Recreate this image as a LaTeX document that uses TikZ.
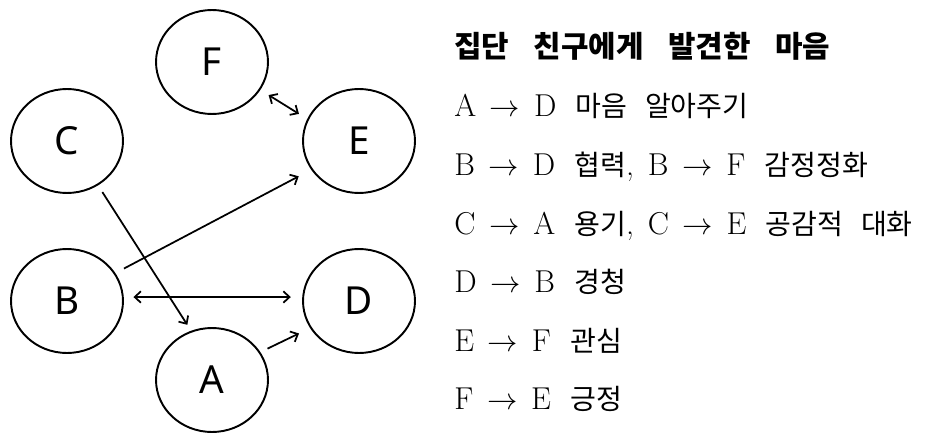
\documentclass[tikz,border=0pt]{standalone}
\usepackage{fontspec}
\usetikzlibrary{shapes.geometric,arrows.meta}
\setsansfont{Noto Sans}
\newfontfamily\krfont{Noto Sans CJK KR}
\newcommand{\kr}[1]{\unskip\hskip 11pt{\krfont\fontsize{16}{18}\selectfont\spaceskip=10pt\relax #1}}
\newcommand{\krtitle}[1]{{\krfont\bfseries\fontsize{17}{19}\selectfont\spaceskip=14pt\relax #1}}
\newcommand{\finds}{{$\rightarrow$}}
\tikzset{
  member/.style={ellipse, draw, line width=1.1pt, inner sep=0pt,
    minimum width=2.24cm, minimum height=2.08cm,
    font=\sffamily\fontsize{22}{24}\selectfont},
  barb/.tip={Straight Barb[length=3.5pt,width=6.5pt]},
  tie/.style={line width=1pt, -barb, shorten <=5pt, shorten >=5pt},
  line/.style={anchor=base west, inner sep=0pt,
    font=\fontsize{18}{20}\selectfont,
    execute at begin node={\spaceskip=7.8pt\relax}}
}
\begin{document}
\begin{tikzpicture}[x=0.02cm,y=-0.02cm]
\useasboundingbox (0,0) rectangle (928,432);

% members of the group
\node [member] (F) at (212,62) {F};
\node [member] (C) at (67,141) {C};
\node [member] (E) at (359,141) {E};
\node [member] (B) at (67,301) {B};
\node [member] (D) at (359,301) {D};
\node [member] (A) at (212,380) {A};

% who found what in whom
\draw [tie, shorten <=4.5pt, shorten >=4pt] (C.-55) -- (A.113);
\draw [tie, shorten <=5.5pt, shorten >=8pt] (B.30) -- (E.211);
\draw [tie, barb-barb, shorten <=5.5pt, shorten >=6.5pt] (B.4) -- (D.176);
\draw [tie, shorten <=4.5pt, shorten >=7pt] (A.30) -- (D.209);
\draw [tie, barb-barb, shorten <=5.5pt, shorten >=5.5pt] (F.-30) -- (E.157);

% legend
\node [line] (title) at (454,58) {\krtitle{집단 친구에게 발견한 마음}};
\node [line] (lA) at (454,117) {A \finds{} D \kr{마음 알아주기}};
\node [line] (lB) at (454,175.5) {B \finds{} D \kr{협력}, B \finds{} F \kr{감정정화}};
\node [line] (lC) at (454,234) {C \finds{} A \kr{용기}, C \finds{} E \kr{공감적 대화}};
\node [line] (lD) at (454,292.5) {D \finds{} B \kr{경청}};
\node [line] (lE) at (454,351) {E \finds{} F \kr{관심}};
\node [line] (lF) at (454,409.5) {F \finds{} E \kr{긍정}};
\end{tikzpicture}
\end{document}
